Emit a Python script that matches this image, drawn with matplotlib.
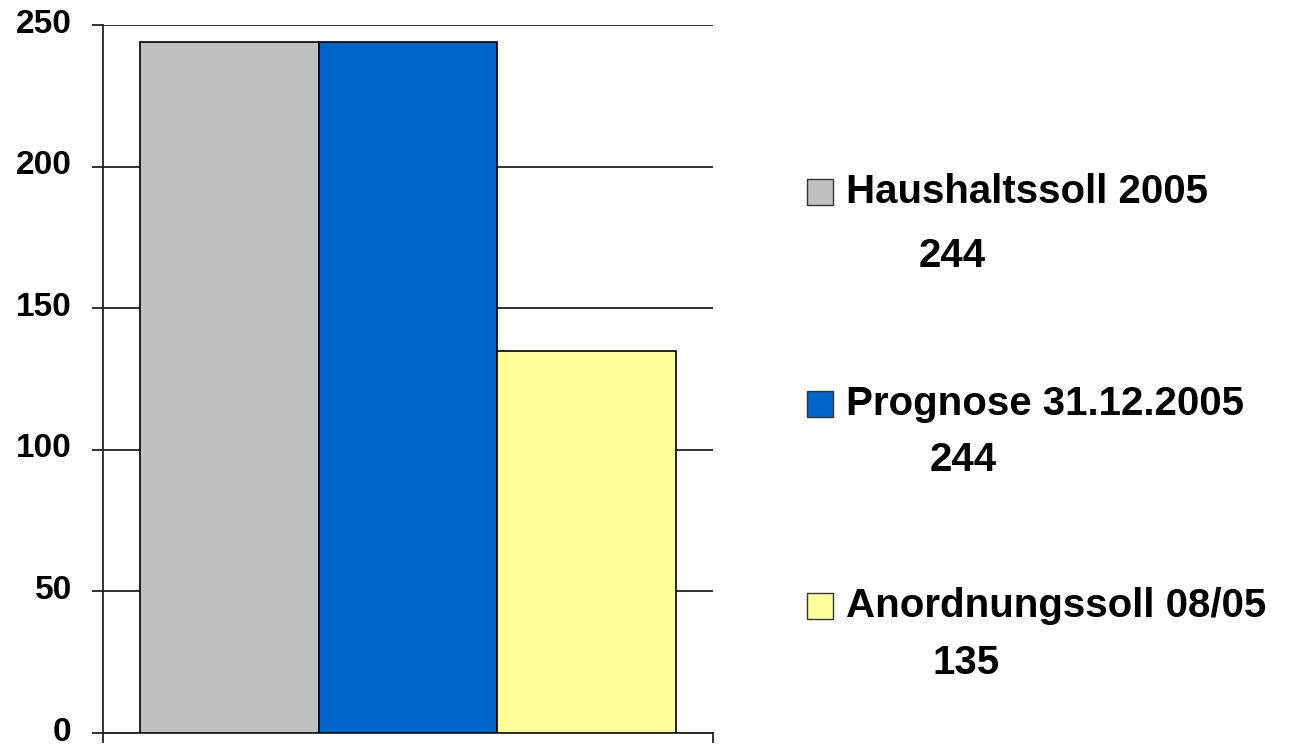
import matplotlib.pyplot as plt
from matplotlib.patches import Rectangle

plt.rcParams['font.family'] = ['Liberation Sans', 'DejaVu Sans']
plt.rcParams['font.weight'] = 'bold'

series = ["Haushaltssoll 2005", "Prognose 31.12.2005", "Anordnungssoll 08/05"]
values = [244, 244, 135]
value_labels = ["244", "244", "135"]
colors = ["#C0C0C0", "#0066CC", "#FFFF99"]
yticks = [0, 50, 100, 150, 200, 250]

fig = plt.figure(figsize=(13.09, 7.45), dpi=100)
ax = fig.add_axes([103 / 1309, 1 - 733 / 745, 610 / 1309, 708 / 745])

for i, (v, c) in enumerate(zip(values, colors)):
    ax.bar(i, v, width=1, align='edge', color=c, edgecolor='black', linewidth=1.2, zorder=3)

pad = 37 / 178.5
ax.set_xlim(-pad, 3 + pad)
ax.set_ylim(0, 250)
ax.set_yticks(yticks)
ax.set_yticklabels([])
# tick labels placed by hand (baseline a bit below the tick, like the original)
for t in yticks:
    ax.annotate(str(t), xy=(0, t), xycoords=('axes fraction', 'data'),
                xytext=(-22.5, -5.5), textcoords='offset points',
                ha='right', va='baseline', fontsize=24, fontweight='bold')
ax.set_xticks([-pad, 3 + pad])
ax.set_xticklabels([])
ax.tick_params(axis='y', length=8, width=1.3, color='#222222')
ax.tick_params(axis='x', length=7, width=1.3, color='#222222')
ax.yaxis.grid(True, color='#222222', linewidth=1.3, zorder=0)
for s in ['top', 'right']:
    ax.spines[s].set_visible(False)
for s in ['left', 'bottom']:
    ax.spines[s].set_color('#222222')
    ax.spines[s].set_linewidth(1.3)

# legend drawn by hand: square + name, value on line below
name_y = [192, 404, 606]
val_y = [256, 460, 663]
val_x = [952, 963, 966]
for i in range(3):
    fig.patches.append(Rectangle((807 / 1309, 1 - (name_y[i] + 13) / 745), 26 / 1309, 26 / 745,
                                 transform=fig.transFigure, facecolor=colors[i],
                                 edgecolor='#333333', linewidth=1))
    fig.text(846 / 1309, 1 - name_y[i] / 745, series[i], fontsize=29, fontweight='bold',
             va='center', ha='left')
    fig.text(val_x[i] / 1309, 1 - val_y[i] / 745, value_labels[i], fontsize=29, fontweight='bold',
             va='center', ha='center')

fig.savefig('out.png', dpi=100)
